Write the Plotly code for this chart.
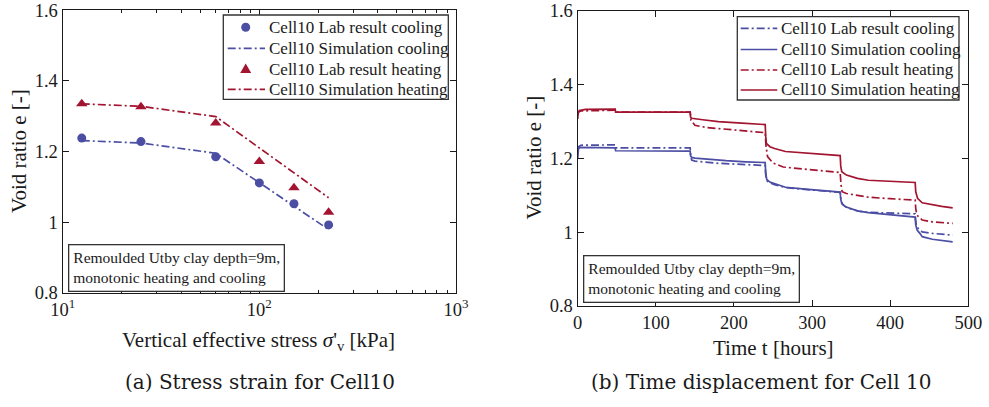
import plotly.graph_objects as go

# ---- (a) void ratio against vertical effective stress ----
stress_kpa = [12.5, 25, 60, 100, 150, 225]
lab_cooling_e = [1.238, 1.228, 1.185, 1.111, 1.052, 0.992]
sim_cooling_e = [1.231, 1.224, 1.195, 1.111, 1.045, 0.979]
lab_heating_e = [1.335, 1.327, 1.281, 1.172, 1.097, 1.028]
sim_heating_e = [1.335, 1.328, 1.299, 1.210, 1.140, 1.069]

# ---- (b) void ratio against time, load steps at 0, 48, 144, 240, 336, 432 h ----
t_lab_cooling = [0, 1, 4, 47.5, 48, 48.5, 143.5,
                 144, 144.7, 146, 150, 160, 180, 210, 239.5,
                 240, 240.7, 242, 246, 252, 266, 295, 335.5,
                 336, 337, 339, 345, 360, 372, 400, 431.5,
                 432, 432.7, 434, 438, 441, 454, 480]
e_lab_cooling = [1.224, 1.232, 1.236, 1.237, 1.237, 1.229, 1.229,
                 1.229, 1.205, 1.196, 1.193, 1.191, 1.187, 1.184, 1.181,
                 1.181, 1.155, 1.140, 1.134, 1.129, 1.121, 1.115, 1.108,
                 1.108, 1.088, 1.075, 1.066, 1.057, 1.054, 1.052, 1.050,
                 1.050, 1.030, 1.015, 1.006, 1.001, 0.997, 0.992]

t_sim_cooling = [0, 1, 3, 47.5, 48, 48.5, 143.5,
                 144, 144.5, 146, 150, 165, 190, 215, 239.5,
                 240, 240.7, 242, 246, 252, 266, 295, 335.5,
                 336, 336.7, 338, 343, 350, 358, 372, 400, 431.5,
                 432, 432.7, 434.5, 438, 441, 454, 466, 480]
e_sim_cooling = [1.200, 1.226, 1.230, 1.230, 1.229, 1.221, 1.220,
                 1.220, 1.207, 1.203, 1.201, 1.198, 1.194, 1.191, 1.189,
                 1.189, 1.160, 1.143, 1.136, 1.132, 1.122, 1.116, 1.109,
                 1.109, 1.090, 1.078, 1.069, 1.063, 1.058, 1.053, 1.047, 1.041,
                 1.041, 1.020, 1.006, 0.997, 0.988, 0.981, 0.977, 0.974]

t_lab_heating = [0, 1, 4, 47.5, 48, 48.5, 143.5,
                 144, 145, 150, 165, 180, 210, 239.5,
                 240, 241, 243, 250, 263, 295, 335.5,
                 336, 337, 338.5, 344, 358, 372, 400, 431.5,
                 432, 432.7, 434, 441, 454, 480]
e_lab_heating = [1.318, 1.326, 1.329, 1.331, 1.331, 1.326, 1.326,
                 1.326, 1.304, 1.290, 1.284, 1.281, 1.276, 1.270,
                 1.270, 1.235, 1.205, 1.188, 1.177, 1.170, 1.162,
                 1.162, 1.130, 1.110, 1.105, 1.101, 1.095, 1.091, 1.087,
                 1.087, 1.065, 1.047, 1.033, 1.028, 1.024]

t_sim_heating = [0, 0.5, 2, 10, 47.5, 48, 48.5, 143.5,
                 144, 144.5, 146, 160, 180, 210, 239.5,
                 240, 240.7, 241.5, 246, 252, 266, 295, 335.5,
                 336, 336.7, 338, 344, 358, 372, 400, 431.5,
                 432, 432.7, 435, 441, 454, 466, 480]
e_sim_heating = [1.307, 1.322, 1.330, 1.333, 1.334, 1.334, 1.326, 1.326,
                 1.326, 1.312, 1.309, 1.305, 1.300, 1.296, 1.292,
                 1.292, 1.260, 1.241, 1.232, 1.227, 1.219, 1.214, 1.208,
                 1.208, 1.180, 1.164, 1.155, 1.146, 1.141, 1.138, 1.135,
                 1.135, 1.110, 1.092, 1.080, 1.074, 1.070, 1.066]

legend_labels = ["Cell10 Lab result cooling", "Cell10 Simulation cooling",
                 "Cell10 Lab result heating", "Cell10 Simulation heating"]

y_ticks = [0.8, 1.0, 1.2, 1.4, 1.6]
y_tick_text = ["0.8", "1", "1.2", "1.4", "1.6"]
x_log_ticks = [10, 100, 1000]
x_log_text = ["10<sup>1</sup>", "10<sup>2</sup>", "10<sup>3</sup>"]
x_log_minor = [20, 30, 40, 50, 60, 70, 80, 90, 200, 300, 400, 500, 600, 700, 800, 900]
x_time_ticks = [0, 100, 200, 300, 400, 500]

BLUE = "#4b4ea3"
RED = "#a2142f"
INK = "#1a1a1a"
FONT = "Liberation Serif, Times New Roman, serif"
CAPTION_FONT = "DejaVu Serif, serif"
DASHDOT = "8px,3px,2px,3px"
LW = 1.7

W, H = 989, 407

fig = go.Figure()

# (a) markers and simulation lines
fig.add_trace(go.Scatter(x=stress_kpa, y=lab_cooling_e, mode="markers",
                         name=legend_labels[0],
                         marker=dict(symbol="circle", size=9, color=BLUE),
                         xaxis="x", yaxis="y"))
fig.add_trace(go.Scatter(x=stress_kpa, y=sim_cooling_e, mode="lines",
                         name=legend_labels[1],
                         line=dict(color=BLUE, width=LW, dash=DASHDOT),
                         xaxis="x", yaxis="y"))
fig.add_trace(go.Scatter(x=stress_kpa, y=lab_heating_e, mode="markers",
                         name=legend_labels[2],
                         marker=dict(symbol="triangle-up", size=10, color=RED),
                         xaxis="x", yaxis="y"))
fig.add_trace(go.Scatter(x=stress_kpa, y=sim_heating_e, mode="lines",
                         name=legend_labels[3],
                         line=dict(color=RED, width=LW, dash=DASHDOT),
                         xaxis="x", yaxis="y"))

# (b) time histories
fig.add_trace(go.Scatter(x=t_lab_cooling, y=e_lab_cooling, mode="lines",
                         name=legend_labels[0],
                         line=dict(color=BLUE, width=LW, dash=DASHDOT),
                         xaxis="x2", yaxis="y2"))
fig.add_trace(go.Scatter(x=t_sim_cooling, y=e_sim_cooling, mode="lines",
                         name=legend_labels[1],
                         line=dict(color=BLUE, width=LW),
                         xaxis="x2", yaxis="y2"))
fig.add_trace(go.Scatter(x=t_lab_heating, y=e_lab_heating, mode="lines",
                         name=legend_labels[2],
                         line=dict(color=RED, width=LW, dash=DASHDOT),
                         xaxis="x2", yaxis="y2"))
fig.add_trace(go.Scatter(x=t_sim_heating, y=e_sim_heating, mode="lines",
                         name=legend_labels[3],
                         line=dict(color=RED, width=LW),
                         xaxis="x2", yaxis="y2"))


def px_x(p):
    return p / W


def px_y(p):
    return 1 - p / H


axis_style = dict(showline=True, linecolor=INK, linewidth=1.3, mirror="allticks",
                  ticks="inside", ticklen=6, tickwidth=1.2, tickcolor=INK,
                  showgrid=False, zeroline=False, automargin=False,
                  ticklabeloverflow="allow",
                  tickfont=dict(family=FONT, size=18.5, color=INK))

fig.update_layout(
    width=W, height=H,
    margin=dict(l=0, r=0, t=0, b=0),
    paper_bgcolor="white", plot_bgcolor="white",
    showlegend=False,
    xaxis=dict(axis_style, type="log", range=[1, 3], anchor="y",
               domain=[px_x(62.7), px_x(456)],
               tickvals=x_log_ticks, ticktext=x_log_text,
               minor=dict(ticks="inside", ticklen=3, tickcolor=INK,
                          tickvals=x_log_minor, showgrid=False)),
    yaxis=dict(axis_style, range=[0.8, 1.6], anchor="x",
               domain=[px_y(292.7), px_y(10.3)],
               tickvals=y_ticks, ticktext=y_tick_text),
    xaxis2=dict(axis_style, range=[0, 500], anchor="y2",
                domain=[px_x(577.7), px_x(968.3)],
                tickvals=x_time_ticks),
    yaxis2=dict(axis_style, range=[0.8, 1.6], anchor="x2",
                domain=[px_y(306), px_y(11)],
                tickvals=y_ticks, ticktext=y_tick_text),
)

shapes = []
annotations = []


def paper_rect(x0, y0, x1, y1, **kw):
    return dict(type="rect", xref="paper", yref="paper",
                x0=px_x(x0), x1=px_x(x1), y0=px_y(y1), y1=px_y(y0), **kw)


def paper_line(x0, x1, y, color, dash):
    return dict(type="line", xref="paper", yref="paper",
                x0=px_x(x0), x1=px_x(x1), y0=px_y(y), y1=px_y(y),
                line=dict(color=color, width=LW, dash=dash))


# legend of panel (a): symbols for lab points, dash-dot keys for simulations
box_a = (223.3, 15, 448.3, 99.3)
rows_a = [27.3, 48.3, 69, 89.3]
shapes.append(paper_rect(*box_a, line=dict(color="#333", width=1.3), fillcolor="white", layer="above"))
keys_a = [("circle", BLUE), ("line", BLUE), ("triangle", RED), ("line", RED)]
for (kind, color), yc, label in zip(keys_a, rows_a, legend_labels):
    xc = 245.7
    if kind == "circle":
        shapes.append(dict(type="circle", xref="paper", yref="paper",
                           x0=px_x(xc - 4.5), x1=px_x(xc + 4.5),
                           y0=px_y(yc + 4.5), y1=px_y(yc - 4.5),
                           fillcolor=color, line=dict(color=color, width=0), layer="above"))
    elif kind == "triangle":
        p = [(xc, yc - 5.5), (xc + 5.5, yc + 4), (xc - 5.5, yc + 4)]
        path = "M " + " L ".join(f"{px_x(a):.5f},{px_y(b):.5f}" for a, b in p) + " Z"
        shapes.append(dict(type="path", xref="paper", yref="paper", path=path,
                           fillcolor=color, line=dict(color=color, width=0), layer="above"))
    else:
        s = paper_line(227.7, 265, yc, color, DASHDOT)
        s["layer"] = "above"
        shapes.append(s)
    annotations.append(dict(text=label, x=px_x(266.5), y=px_y(yc),
                            xanchor="left", yanchor="middle",
                            font=dict(family=FONT, size=17, color=INK)))

# legend of panel (b): dash-dot for lab results, solid for simulations
box_b = (737.3, 16.7, 959, 100)
rows_b = [28.3, 49.5, 70, 90]
shapes.append(paper_rect(*box_b, line=dict(color="#333", width=1.3), fillcolor="white", layer="above"))
keys_b = [(BLUE, DASHDOT), (BLUE, "solid"), (RED, DASHDOT), (RED, "solid")]
for (color, dash), yc, label in zip(keys_b, rows_b, legend_labels):
    s = paper_line(740.7, 777.3, yc, color, dash)
    s["layer"] = "above"
    shapes.append(s)
    annotations.append(dict(text=label, x=px_x(778.7), y=px_y(yc),
                            xanchor="left", yanchor="middle",
                            font=dict(family=FONT, size=17, color=INK)))

label_font = dict(family=FONT, size=21, color=INK)
note = "Remoulded Utby clay depth=9m,<br>monotonic heating and cooling"

titles = [
    dict(text="Void ratio e [-]", x=px_x(18.5), y=px_y(151.5), textangle=-90),
    dict(text="Void ratio e [-]", x=px_x(533.5), y=px_y(158), textangle=-90),
    dict(text="Vertical effective stress <i>σ</i>'<sub>v</sub> [kPa]",
         x=px_x(258), y=px_y(341)),
    dict(text="Time t [hours]", x=px_x(773), y=px_y(348)),
    dict(text="(a) Stress strain for Cell10", x=px_x(260), y=px_y(382),
         font=dict(family=CAPTION_FONT, size=20, color=INK)),
    dict(text="(b) Time displacement for Cell 10", x=px_x(760.5), y=px_y(382),
         font=dict(family=CAPTION_FONT, size=20, color=INK)),
]
for a in titles:
    a.setdefault("font", label_font)
    a.update(xanchor="center", yanchor="middle")
annotations.extend(titles)

# boxed notes in the lower-left of each panel
for x0, y0 in [(67.7, 244), (582.7, 255)]:
    annotations.append(dict(text=note, x=px_x(x0), y=px_y(y0),
                            xanchor="left", yanchor="top", align="left",
                            font=dict(family=FONT, size=15.5, color=INK),
                            bgcolor="white", bordercolor="#333", borderwidth=1.3,
                            borderpad=4))

for a in annotations:
    a.update(xref="paper", yref="paper", showarrow=False)

fig.update_layout(shapes=shapes, annotations=annotations)

fig.write_html("out.html")
